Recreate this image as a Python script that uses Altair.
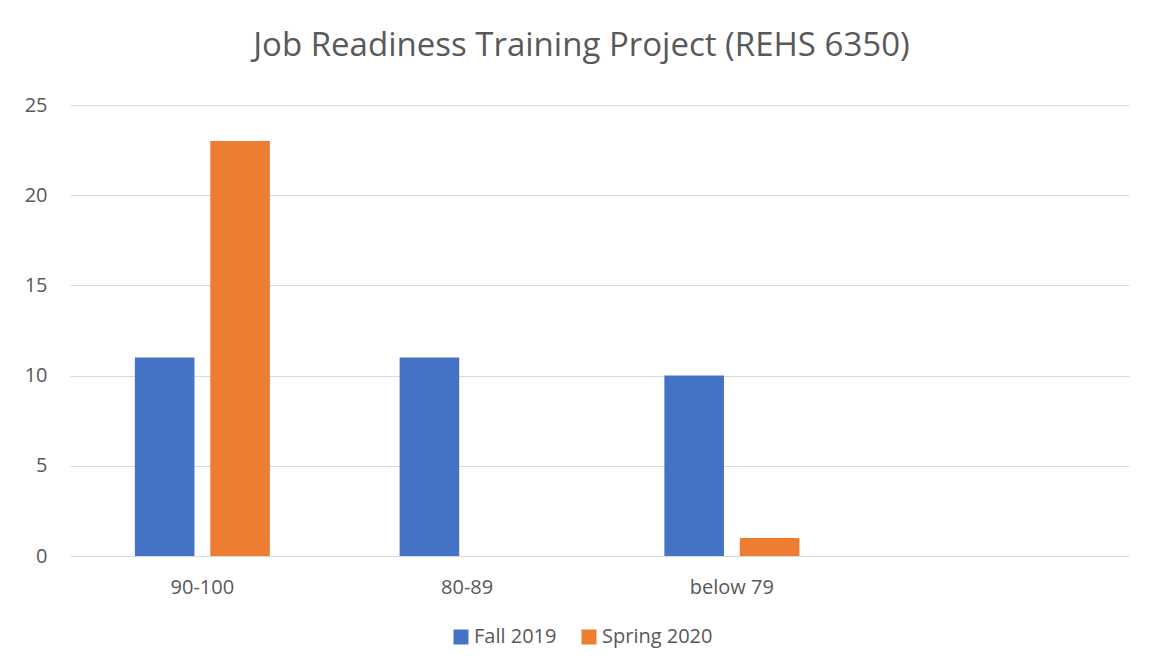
import altair as alt
import pandas as pd

categories = ["90-100", "80-89", "below 79"]
all_categories = ["90-100", "80-89", "below 79", ""]
series = ["Fall 2019", "Spring 2020"]
fall_2019 = [11, 11, 10]
spring_2020 = [23, 0, 1]
y_ticks = [0, 5, 10, 15, 20, 25]
colors = ["#4472C4", "#ED7D31"]

rows = []
for c, f, s in zip(categories, fall_2019, spring_2020):
    rows.append({"cat": c, "series": series[0], "value": f})
    rows.append({"cat": c, "series": series[1], "value": s})
df = pd.DataFrame(rows)

FONT = "Open Sans"
GREY = "#595959"

chart = alt.Chart(df).mark_bar().encode(
    x=alt.X("cat:N", sort=all_categories,
            scale=alt.Scale(domain=all_categories, paddingInner=0.49, paddingOuter=0.245),
            axis=alt.Axis(title=None, labelAngle=0, domain=False, ticks=False,
                          labelPadding=21, labelFontSize=20, labelColor=GREY, labelFont=FONT)),
    xOffset=alt.XOffset("series:N", sort=series,
                        scale=alt.Scale(paddingInner=0.21, paddingOuter=0)),
    y=alt.Y("value:Q", scale=alt.Scale(domain=[0, 25]),
            axis=alt.Axis(title=None, values=y_ticks, domain=False, ticks=False,
                          labelPadding=23, labelFontSize=20, labelColor=GREY, labelFont=FONT,
                          gridColor="#D9D9D9", gridWidth=1)),
    color=alt.Color("series:N", sort=series,
                    scale=alt.Scale(domain=series, range=colors),
                    legend=alt.Legend(title=None, orient="none", direction="horizontal",
                                      legendX=381, legendY=522,
                                      symbolType="square", symbolSize=225, symbolStrokeWidth=0,
                                      labelFontSize=20, labelColor=GREY, labelFont=FONT,
                                      columnPadding=22, labelOffset=3)),
).properties(
    width=1059, height=451,
    autosize=alt.AutoSizeParams(type="none"),
    padding={"left": 62, "top": 97, "right": 6, "bottom": 108},
    title=alt.TitleParams("Job Readiness Training Project (REHS 6350)", fontSize=33,
                          font=FONT, fontWeight="normal", color=GREY,
                          anchor="middle", dx=-18, offset=32),
).configure(background="white", view=alt.ViewConfig(stroke=None))

chart.save("out.html", embed_options={"renderer": "svg", "actions": False})
